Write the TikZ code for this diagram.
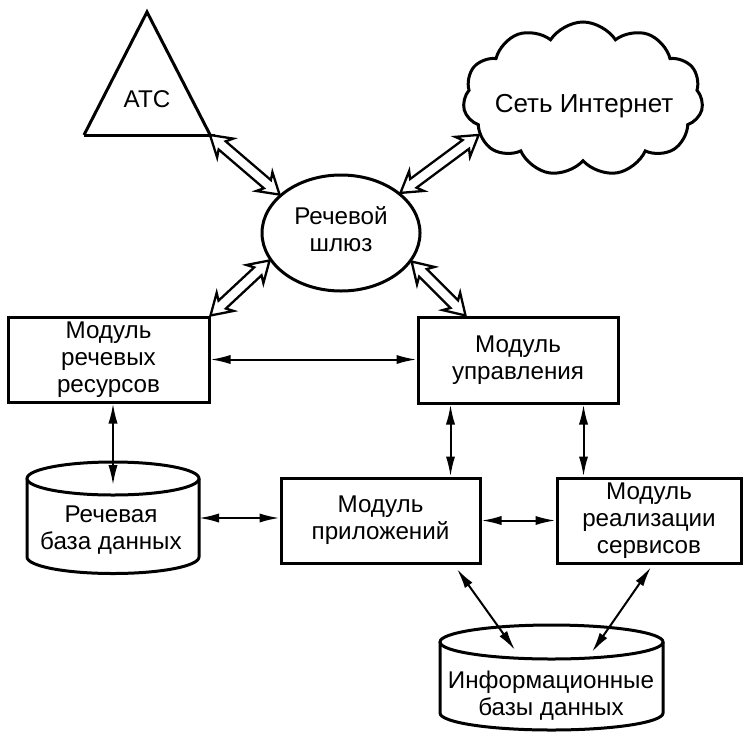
\documentclass[tikz,border=0pt]{standalone}
\usepackage{fontspec}
\setmainfont{Liberation Sans}
\usetikzlibrary{calc,shapes.symbols,shapes.geometric,arrows.meta}

\begin{document}
\begin{tikzpicture}[x=0.5pt,y=-0.5pt,
  every node/.style={font=\fontsize{12.1}{13.4}\selectfont, align=center},
  shapeline/.style={line width=1.5pt, line join=miter},
  box/.style={shapeline, draw, fill=white, inner sep=0pt},
  link/.style={line width=1pt, {Latex[length=10pt,width=4.6pt]}-{Latex[length=10pt,width=4.6pt]}},
  hollow/.style={draw, line width=1.15pt, fill=white, line join=miter,
    to path={
      (\tikztostart)
      -- ($(\tikztostart)!10pt!(\tikztotarget)!6.2pt!90:(\tikztotarget)$)
      -- ($(\tikztostart)!8pt!(\tikztotarget)!2.7pt!90:(\tikztotarget)$)
      -- ($(\tikztotarget)!8pt!(\tikztostart)!2.7pt!-90:(\tikztostart)$)
      -- ($(\tikztotarget)!10pt!(\tikztostart)!6.2pt!-90:(\tikztostart)$)
      -- (\tikztotarget)
      -- ($(\tikztotarget)!10pt!(\tikztostart)!6.2pt!90:(\tikztostart)$)
      -- ($(\tikztotarget)!8pt!(\tikztostart)!2.7pt!90:(\tikztostart)$)
      -- ($(\tikztostart)!8pt!(\tikztotarget)!2.7pt!-90:(\tikztotarget)$)
      -- ($(\tikztostart)!10pt!(\tikztotarget)!6.2pt!-90:(\tikztotarget)$)
      -- cycle}}
]
\useasboundingbox (0,0) rectangle (747,733);

% telephone exchange (triangle)
\draw[shapeline] (84,135) -- (147,12) -- (213.5,141.5);
\draw[shapeline] (84,135) -- (215,135);
\coordinate (atcR) at (210,135);
\node (atc) at (147,99) {АТС};

% internet cloud
\node[cloud, draw, shapeline, cloud puffs=11, cloud puff arc=115, aspect=1.6,
      minimum width=120pt, minimum height=77pt, inner sep=0pt] (net) at (583,99) {};
\node[font=\fontsize{13}{15}\selectfont] (nettext) at (584,106) {Сеть Интернет};

% speech gateway
\node[ellipse, draw, shapeline, minimum width=79pt, minimum height=58pt, inner sep=0pt]
  (gw) at (341,233) {};
\node (gwtext) at (341,229) {Речевой\\шлюз};

% modules
\node[box, minimum width=100.5pt, minimum height=42.5pt] (b1) at (108.5,359.5) {Модуль\\речевых\\ресурсов};
\node[box, minimum width=100pt, minimum height=43pt] (b2) at (518,360) {Модуль\\управления};
\node[box, minimum width=99.5pt, minimum height=42.5pt] (b3) at (380.5,520.5) {Модуль\\приложений};
\node[box, minimum width=92pt, minimum height=42.5pt] (b4) at (649,520.5) {Модуль\\реализации\\сервисов};

% speech database (cylinder)
\draw[shapeline, fill=white] (27,478.5) -- (27,557)
  arc[start angle=180, end angle=360, x radius=43pt, y radius=8.25pt] -- (199,478.5);
\draw[shapeline] (113,478.5) ellipse[x radius=43pt, y radius=8.25pt];
\node (sdb) at (111,530) {Речевая\\база данных};
\coordinate (sdbtop) at (113,485);
\coordinate (sdbR) at (199,518);

% information databases (cylinder)
\draw[shapeline, fill=white] (440,642) -- (440,713)
  arc[start angle=180, end angle=360, x radius=55.75pt, y radius=8.5pt] -- (663,642);
\draw[shapeline] (551.5,642) ellipse[x radius=55.75pt, y radius=8.5pt];
\node (idb) at (551,696) {Информационные\\базы данных};
\coordinate (idbA) at (515,650);
\coordinate (idbB) at (592,652);

% block arrows around the gateway
\draw[hollow] (atcR) to (gw.148);
\draw[hollow] (gw.34) to (net.199);
\draw[hollow] (b1.north east) to (gw.201);
\draw[hollow] (gw.338) to ($(b2.north west)+(49,0)$);

% plain links
\draw[link] (b1.east) -- (b1.east -| b2.west);
\coordinate (u1) at ($(b2.south west)+(34,0)$);
\coordinate (u2) at ($(b2.south west)+(167,0)$);
\draw[link] (u1) -- (u1 |- b3.north);
\draw[link] (u2) -- (u2 |- b4.north);
\draw[link] (b3.east) -- (b3.east -| b4.west);
\draw[link] (sdbtop |- b1.south) -- (sdbtop);
\draw[link] (sdbR) -- (sdbR -| b3.west);
\coordinate (pA) at (457,569);
\coordinate (pB) at (651,567);
\draw[link] (pA) -- (idbA);
\draw[link] (pB) -- (idbB);
\end{tikzpicture}
\end{document}
